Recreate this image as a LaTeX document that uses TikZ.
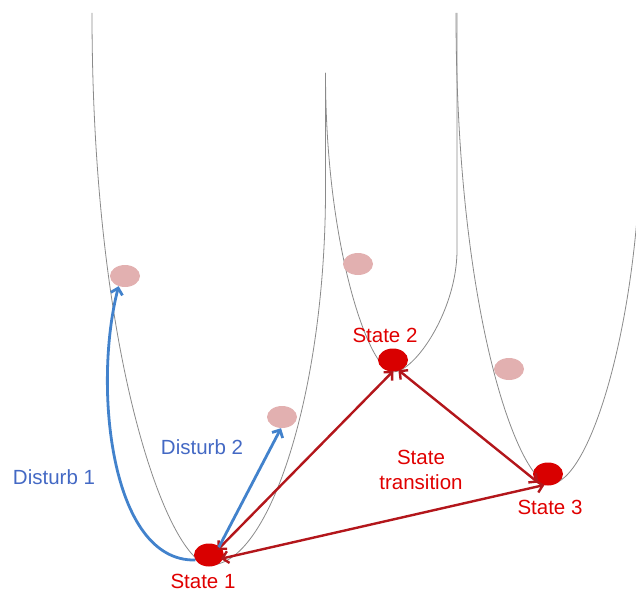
\documentclass[tikz,border=0pt]{standalone}
\usepackage{fontspec}
\setmainfont{Liberation Sans}
\usetikzlibrary{shapes.geometric,arrows.meta}
\definecolor{curvegray}{HTML}{8A8A8A}
\definecolor{ghost}{HTML}{E2B0B0}
\definecolor{statered}{HTML}{D90000}
\definecolor{labelred}{HTML}{E00000}
\definecolor{arrowred}{HTML}{B3161B}
\definecolor{labelblue}{HTML}{4469C4}
\definecolor{arrowblue}{HTML}{4282CC}
\tikzset{
  well/.style={draw=curvegray, line width=0.8pt},
  ghostdot/.style={ellipse, fill=ghost, minimum width=30pt, minimum height=22pt, inner sep=0pt},
  statedot/.style={ellipse, fill=statered, minimum width=30pt, minimum height=23pt, inner sep=0pt},
  redlbl/.style={text=labelred, inner sep=0pt, font=\fontsize{20.5}{25}\selectfont, align=center},
  bluelbl/.style={text=labelblue, inner sep=0pt, font=\fontsize{20.5}{25}\selectfont},
  trans/.style={draw=arrowred, line width=2.4pt, {Straight Barb[length=6pt,width=12pt]}-{Straight Barb[length=6pt,width=12pt]}},
  disturb/.style={draw=arrowblue, line width=2.8pt, -{Straight Barb[length=6pt,width=12pt]}}
}
\begin{document}
\begin{tikzpicture}[x=1pt,y=-1pt]
\useasboundingbox (0,0) rectangle (636,591);
\begin{scope}
\clip (0,0) rectangle (636,591);
% potential wells
\draw[well] (92,13) .. controls (92,363) and (170,565) .. (210,565)
  .. controls (270,565) and (325.5,390) .. (325.5,190) -- (325.5,73);
\draw[well] (325.5,73) .. controls (325.5,250) and (370,372) .. (393,372)
  .. controls (415,372) and (457,310) .. (457,250) -- (457,13);
\draw[well] (456,13) .. controls (456,320) and (520,484) .. (550,484)
  .. controls (590,484) and (640,320) .. (641,130);
\end{scope}
% ghost positions
\node[ghostdot] (d1) at (125,276) {};
\node[ghostdot] (d2) at (282,417) {};
\node[ghostdot] (g2) at (358,264) {};
\node[ghostdot] (g3) at (509,369) {};
% states
\node[statedot] (s1) at (209,555) {};
\node[statedot] (s2) at (393,360) {};
\node[statedot] (s3) at (548,474) {};
% transitions
\draw[trans, shorten <=-4pt, shorten >=-1pt] (s1.35) -- (s2.-92);
\draw[trans, shorten <=-1pt, shorten >=-4pt] (s2.-60) -- (s3.205);
\draw[trans, shorten <=-3pt, shorten >=-1pt] (s1.-12) -- (s3.-112);
% disturbances
\draw[disturb] (s1.200) .. controls (110,562) and (93,385) .. (d1.-122);
\draw[disturb, shorten <=-1pt] (s1.40) -- (d2.-95);
% labels
\node[redlbl] (l1) at (203,581) {State 1};
\node[redlbl] (l2) at (385,335) {State 2};
\node[redlbl] (l3) at (550,507) {State 3};
\node[redlbl] (lt) at (421,470) {State\\transition};
\node[bluelbl] (b1) at (54,477) {Disturb 1};
\node[bluelbl] (b2) at (202,447) {Disturb 2};
\end{tikzpicture}
\end{document}
